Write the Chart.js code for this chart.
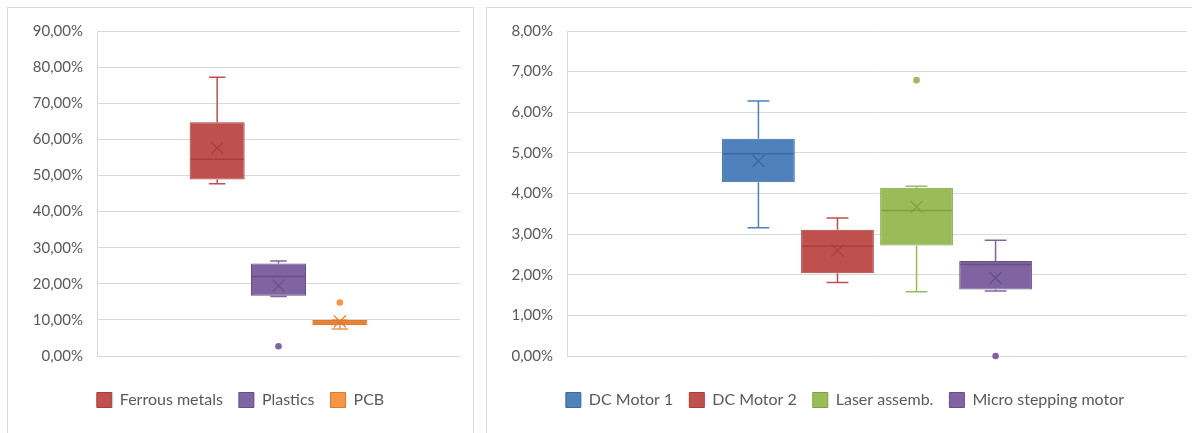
<!DOCTYPE html>
<html><head><meta charset="utf-8">
<script src="https://cdn.jsdelivr.net/npm/chart.js@4.4.0/dist/chart.umd.min.js"></script>
<style>
html,body{margin:0;padding:0;background:#fff;overflow:hidden;width:1192px;height:433px;}
.panel{position:absolute;top:7px;border:1px solid #d9d9d9;background:#fff;}
#p1{left:7px;width:465px;height:440px;}
#p2{left:486px;width:716px;height:440px;}
canvas{display:block;}
</style></head><body>
<div class="panel" id="p1"><canvas id="c1" width="465" height="426"></canvas></div>
<div class="panel" id="p2"><canvas id="c2" width="716" height="426"></canvas></div>
<script>
// left chart: material shares (%)
const matNames = ['Ferrous metals','Plastics','PCB'];
const matMin  = [47.7, 16.5, 7.5];
const matQ1   = [48.9, 16.7, 8.6];
const matMed  = [54.5, 22.0, 9.3];
const matQ3   = [64.7, 25.6, 10.0];
const matMax  = [77.2, 26.3, 10.0];
const matMean = [57.6, 19.5, 9.6];
const matOut  = [[], [2.7], [14.8]];
const matFill = ['#C0504D','#8064A2','#F79646'];
const matLine = ['#A5403D','#664F85','#D9782D'];

// right chart: component shares (%)
const compNames = ['DC Motor 1','DC Motor 2','Laser assemb.','Micro stepping motor'];
const compMin  = [3.16, 1.81, 1.58, 1.60];
const compQ1   = [4.28, 2.04, 2.72, 1.64];
const compMed  = [4.98, 2.70, 3.58, 2.25];
const compQ3   = [5.35, 3.11, 4.14, 2.34];
const compMax  = [6.28, 3.40, 4.18, 2.85];
const compMean = [4.80, 2.60, 3.67, 1.92];
const compOut  = [[], [], [6.79], [0]];
const compFill = ['#4F81BD','#C0504D','#9BBB59','#8064A2'];
const compLine = ['#3D6A9E','#A5403D','#7F9E47','#664F85'];

const pct = v => Number(v).toFixed(2).replace('.', ',') + '%';

Chart.defaults.font.family = 'Lato, "Liberation Sans", sans-serif';
Chart.defaults.font.size = 15;
Chart.defaults.color = '#595959';

const boxExtras = {
  id: 'boxExtras',
  beforeDatasetsDraw(chart, args, o){
    const ctx = chart.ctx, y = chart.scales.y;
    chart.data.datasets.forEach((ds, i)=>{
      const bar = chart.getDatasetMeta(i).data[0];
      const cap = bar.width * 0.3;
      const yq1 = y.getPixelForValue(o.q1[i]), yq3 = y.getPixelForValue(o.q3[i]);
      const ymin = y.getPixelForValue(o.min[i]), ymax = y.getPixelForValue(o.max[i]);
      ctx.save();
      ctx.strokeStyle = o.fill[i]; ctx.lineWidth = 1.5;
      ctx.beginPath();
      ctx.moveTo(bar.x, yq3); ctx.lineTo(bar.x, ymax);
      ctx.moveTo(bar.x - cap/2, ymax); ctx.lineTo(bar.x + cap/2, ymax);
      ctx.moveTo(bar.x, yq1); ctx.lineTo(bar.x, ymin);
      ctx.moveTo(bar.x - cap/2, ymin); ctx.lineTo(bar.x + cap/2, ymin);
      ctx.stroke();
      ctx.restore();
    });
  },
  afterDatasetsDraw(chart, args, o){
    const ctx = chart.ctx, y = chart.scales.y;
    chart.data.datasets.forEach((ds, i)=>{
      const bar = chart.getDatasetMeta(i).data[0];
      const half = bar.width / 2;
      ctx.save();
      // median
      const ym = y.getPixelForValue(o.med[i]);
      ctx.strokeStyle = o.line[i]; ctx.lineWidth = 1.5;
      ctx.beginPath();
      ctx.moveTo(bar.x - half + 1, ym); ctx.lineTo(bar.x + half - 1, ym);
      ctx.stroke();
      // mean marker
      const yx = y.getPixelForValue(o.mean[i]);
      const s = 6;
      ctx.lineWidth = 1.2;
      ctx.beginPath();
      ctx.moveTo(bar.x - s, yx - s); ctx.lineTo(bar.x + s, yx + s);
      ctx.moveTo(bar.x + s, yx - s); ctx.lineTo(bar.x - s, yx + s);
      ctx.stroke();
      // outliers
      ctx.fillStyle = o.fill[i];
      o.out[i].forEach(v=>{
        ctx.beginPath();
        ctx.arc(bar.x, y.getPixelForValue(v), 3.3, 0, Math.PI*2);
        ctx.fill();
      });
      ctx.restore();
    });
  }
};

function makeBox(id, names, q1, q3, stats, fill, line, yMax, yStep, yWidth, rightGap, catPct, barPct){
  new Chart(document.getElementById(id), {
    type: 'bar',
    data: {
      labels: [''],
      datasets: names.map((n, i)=>({
        label: n,
        data: [[q1[i], q3[i]]],
        backgroundColor: fill[i],
        borderColor: line[i],
        borderWidth: 1,
        borderSkipped: false,
        categoryPercentage: catPct,
        barPercentage: barPct
      }))
    },
    options: {
      responsive: false,
      animation: false,
      devicePixelRatio: 1,
      layout: {padding: {top: 20, right: 0, bottom: 16, left: 0}},
      scales: {
        x: {
          grid: {display: false},
          border: {display: false},
          ticks: {display: false},
          afterFit: s => { s.height = 20; }
        },
        y: {
          min: 0, max: yMax,
          grid: {color: '#d9d9d9', lineWidth: 1, drawTicks: false},
          border: {color: '#d9d9d9'},
          ticks: {stepSize: yStep, padding: 14, callback: v => pct(v)},
          afterFit: s => { s.width = yWidth; }
        },
        y2: {
          position: 'right',
          display: true,
          grid: {display: false},
          border: {display: false},
          ticks: {display: false},
          afterFit: s => { s.width = rightGap; }
        }
      },
      plugins: {
        tooltip: {enabled: false},
        legend: {
          position: 'bottom',
          labels: {boxWidth: 15, boxHeight: 15, padding: 16, color: '#595959', font: {size: 16}}
        },
        boxExtras: Object.assign({fill, line, q1, q3}, stats)
      }
    },
    plugins: [boxExtras]
  });
}

makeBox('c1', matNames, matQ1, matQ3,
  {min: matMin, max: matMax, med: matMed, mean: matMean, out: matOut},
  matFill, matLine, 90, 10, 89, 13, 0.507, 0.897);

makeBox('c2', compNames, compQ1, compQ3,
  {min: compMin, max: compMax, med: compMed, mean: compMean, out: compOut},
  compFill, compLine, 8, 1, 80, 16, 0.51, 0.92);
</script>
</body></html>
